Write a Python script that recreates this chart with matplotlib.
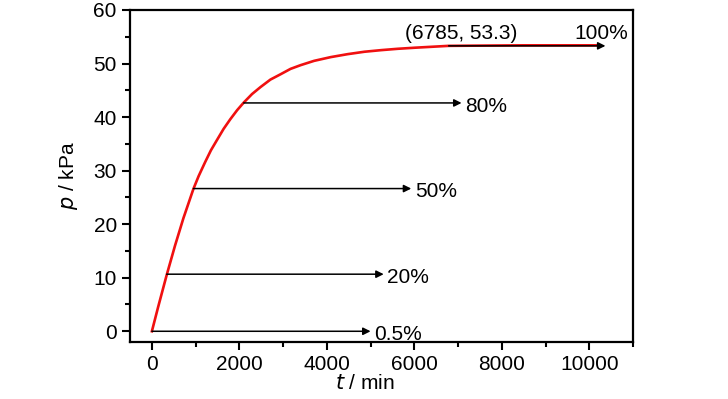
import numpy as np
import matplotlib.pyplot as plt
from matplotlib.ticker import MultipleLocator

plt.rcParams['font.family'] = ['Liberation Sans', 'DejaVu Sans']

# pressure curve
t_min = [0, 145, 338, 529, 720, 950, 1070, 1218, 1350, 1487, 1640, 1793, 1950,
         2099, 2290, 2483, 2710, 2943, 3170, 3402, 3709, 4090, 4476, 4860,
         5241, 5620, 6007, 6785, 7600, 8500, 9400, 10250]
p_kpa = [0, 4.6, 10.5, 16.0, 21.1, 26.6, 29.0, 31.6, 33.8, 35.7, 37.8, 39.6, 41.3,
         42.7, 44.3, 45.6, 47.0, 48.0, 49.0, 49.7, 50.5, 51.2, 51.75, 52.2,
         52.5, 52.75, 52.95, 53.3, 53.35, 53.4, 53.4, 53.4]

# conversion arrows
levels = ['0.5%', '20%', '50%', '80%', '100%']
arrow_t0 = [0, 338, 950, 2099, 6785]
arrow_p = [0, 10.66, 26.65, 42.64, 53.3]
arrow_t1 = [5000, 5300, 5930, 7080, 10370]

fig = plt.figure(figsize=(7.28, 3.99), dpi=100)
ax = fig.add_axes([0.1786, 0.1429, 0.6909, 0.8321])

ax.plot(t_min, p_kpa, color='#f01010', lw=1.9, zorder=2)

for lab, t0, p, t1 in zip(levels, arrow_t0, arrow_p, arrow_t1):
    ax.annotate('', xy=(t1, p), xytext=(t0, p),
                arrowprops=dict(arrowstyle='-|>', color='black', lw=1.1,
                                mutation_scale=11, shrinkA=0, shrinkB=0),
                zorder=3)
    if lab == '100%':
        ax.text(10280, p + 2.3, lab, fontsize=15, ha='center', va='center')
    else:
        ax.text(t1 + 80, p - 0.6, lab, fontsize=15, ha='left', va='center')

ax.text(7080, 55.7, '(6785, 53.3)', fontsize=15, ha='center', va='center')

ax.set_xlim(-500, 11000)
ax.set_ylim(-2, 60)
ax.xaxis.set_major_locator(MultipleLocator(2000))
ax.xaxis.set_minor_locator(MultipleLocator(1000))
ax.yaxis.set_major_locator(MultipleLocator(10))
ax.yaxis.set_minor_locator(MultipleLocator(5))
ax.tick_params(which='major', length=6, width=1.5, labelsize=15, direction='out')
ax.tick_params(which='minor', length=3.5, width=1.5, direction='out')
for s in ax.spines.values():
    s.set_linewidth(1.6)

ax.set_xlabel(r'$\mathit{t}$ / min', fontsize=15, x=0.467, labelpad=0)
ax.set_ylabel(r'$\mathit{p}$ / kPa', fontsize=15, labelpad=10)

plt.savefig('out.png', dpi=100)
